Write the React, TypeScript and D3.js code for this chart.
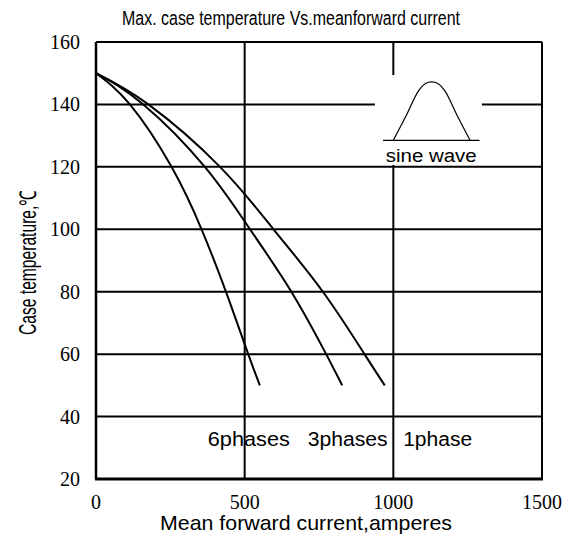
import React from "react";
import * as d3 from "d3";

const xTicks = [0, 500, 1000, 1500];
const yTicks = [20, 40, 60, 80, 100, 120, 140, 160];

const phase6: [number, number][] = [
  [0, 150], [114, 140], [254, 120], [355, 100], [437, 80], [512, 60], [551, 50],
];
const phase3: [number, number][] = [
  [0, 150], [159, 140], [366, 120], [518, 100], [657, 80], [774, 60], [828, 50],
];
const phase1: [number, number][] = [
  [0, 150], [176, 140], [417, 120], [597, 100], [763, 80], [903, 60], [971, 50],
];
const series = [phase6, phase3, phase1];

const seriesLabels = ["6phases", "3phases", "1phase"];
const labelX = [376, 712, 1033];
const labelW = [82, 80, 69];

// inset icon (sine wave) expressed as relative shape
const sineShape: [number, number][] = [
  [0, 0], [0.17, 0.43], [0.33, 0.85], [0.42, 0.975], [0.5, 1], [0.58, 0.975], [0.67, 0.85], [0.83, 0.43], [1, 0],
];

export default function App() {
  const W = 577, H = 540;
  const x = d3.scaleLinear().domain([0, 1500]).range([96, 542]);
  const y = d3.scaleLinear().domain([20, 160]).range([479, 42]);

  const line = d3
    .line<[number, number]>()
    .x((d) => x(d[0]))
    .y((d) => y(d[1]))
    .curve(d3.curveNatural);

  // icon geometry
  const boxX0 = x(938), boxX1 = x(1298), boxY0 = y(149.4), boxY1 = y(120.6);
  const baseY = y(128.5);
  const sx0 = x(1000), sx1 = x(1258), peakH = baseY - y(147.2);
  const sine = d3
    .line<[number, number]>()
    .x((d) => sx0 + d[0] * (sx1 - sx0))
    .y((d) => baseY - d[1] * peakH)
    .curve(d3.curveCatmullRom.alpha(0.5));

  const sans = "'Liberation Sans', Arial, sans-serif";
  const serif = "'Liberation Serif', 'Times New Roman', serif";

  return (
    <svg width={W} height={H} style={{ position: "absolute", left: 0, top: 0, background: "#fff" }}>
      <rect x={0} y={0} width={W} height={H} fill="#fff" />
      {/* horizontal grid */}
      {yTicks.slice(1, -1).map((t) => (
        <line key={"h" + t} x1={x(0)} x2={x(1500)} y1={y(t)} y2={y(t)} stroke="#000" strokeWidth={2} />
      ))}
      {/* vertical grid */}
      {xTicks.slice(1, -1).map((t) => (
        <line key={"v" + t} x1={x(t)} x2={x(t)} y1={y(160)} y2={y(20)} stroke="#000" strokeWidth={2} />
      ))}
      {/* frame */}
      <line x1={x(0)} x2={x(1500)} y1={y(160)} y2={y(160)} stroke="#000" strokeWidth={2} />
      <line x1={x(1500)} x2={x(1500)} y1={y(160)} y2={y(20)} stroke="#000" strokeWidth={2} />
      <line x1={x(0)} x2={x(0)} y1={y(160)} y2={y(20)} stroke="#000" strokeWidth={2.5} />
      <line x1={x(0) - 1} x2={x(1500) + 1} y1={y(20)} y2={y(20)} stroke="#000" strokeWidth={3} />

      {/* sine wave inset */}
      <rect x={boxX0} y={boxY0} width={boxX1 - boxX0} height={boxY1 - boxY0} fill="#fff" />
      <line x1={x(965)} x2={x(1290)} y1={baseY} y2={baseY} stroke="#000" strokeWidth={1.2} />
      <path d={sine(sineShape) || ""} fill="none" stroke="#000" strokeWidth={1.2} />
      <text x={(x(965) + x(1290)) / 2} y={161.5} textAnchor="middle" fontFamily={sans} fontSize={18}
        textLength={91} lengthAdjust="spacingAndGlyphs">sine wave</text>

      {/* curves */}
      {series.map((s, i) => (
        <path key={i} d={line(s) || ""} fill="none" stroke="#000" strokeWidth={2} />
      ))}

      {/* series labels */}
      {seriesLabels.map((l, i) => (
        <text key={l} x={x(labelX[i])} y={y(30.5)} fontFamily={sans} fontSize={20}
          textLength={labelW[i]} lengthAdjust="spacingAndGlyphs">{l}</text>
      ))}

      {/* y tick labels */}
      {yTicks.map((t) => (
        <text key={"yl" + t} x={80} y={y(t)} dy="0.35em" textAnchor="end" fontFamily={serif} fontSize={20}>{t}</text>
      ))}
      {/* x tick labels */}
      {xTicks.map((t) => (
        <text key={"xl" + t} x={x(t)} y={509} textAnchor="middle" fontFamily={serif} fontSize={20}>{t}</text>
      ))}

      {/* titles */}
      <text x={122} y={25} fontFamily={sans} fontSize={19.5} textLength={338} lengthAdjust="spacingAndGlyphs">
        Max. case temperature Vs.meanforward current
      </text>
      <text x={160} y={530} fontFamily={sans} fontSize={21} textLength={292} lengthAdjust="spacingAndGlyphs">
        Mean forward current,amperes
      </text>
      <text transform="translate(35.5,262.5) rotate(-90)" textAnchor="middle" fontFamily={sans} fontSize={23}
        textLength={145} lengthAdjust="spacingAndGlyphs">
        Case temperature,℃
      </text>
    </svg>
  );
}
